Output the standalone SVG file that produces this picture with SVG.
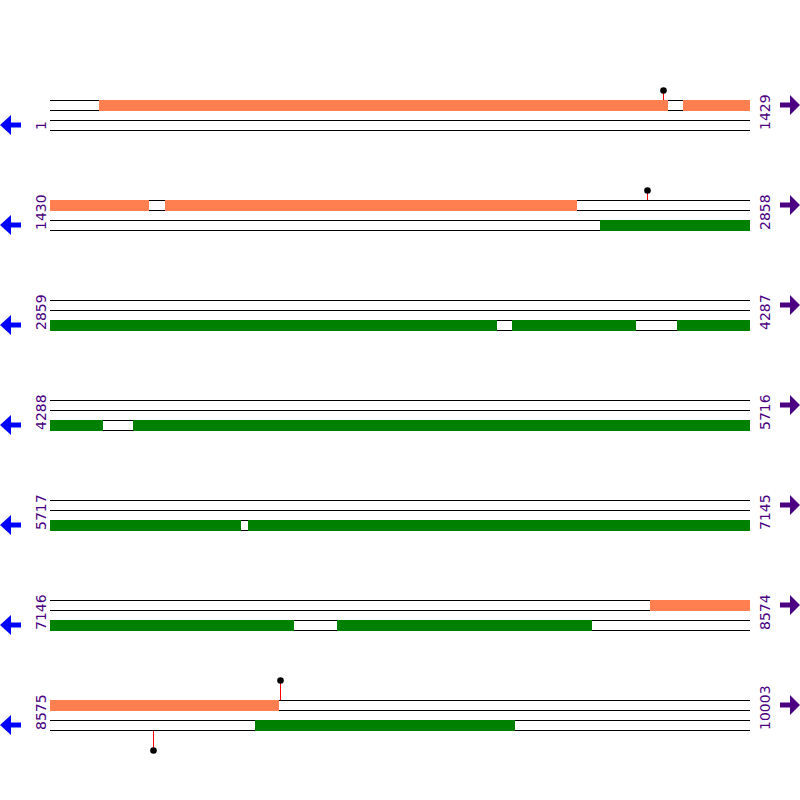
<svg xmlns="http://www.w3.org/2000/svg" width="800" height="800" viewBox="0 0 800 800">
<style>
.ln{stroke:#000;stroke-width:1;fill:none}
.or{fill:#FF7F50}
.gr{fill:#008000}
.lbl{font-family:"DejaVu Sans",sans-serif;font-size:14px;fill:#4B0082}
.stem{stroke:#FF0000;stroke-width:1}
.dot{fill:#000}
.la{fill:#0000FF}
.ra{fill:#4B0082}
</style>
<defs>
<g id="tracks">
<line class="ln" x1="50" y1="0.5" x2="750" y2="0.5"/>
<line class="ln" x1="50" y1="10.5" x2="750" y2="10.5"/>
<line class="ln" x1="50" y1="20.5" x2="750" y2="20.5"/>
<line class="ln" x1="50" y1="30.5" x2="750" y2="30.5"/>
</g>
<path id="larrow" d="M0,25 L11,15 L11,22.5 L21,22.5 L21,27.5 L11,27.5 L11,35 Z"/>
<path id="rarrow" d="M800,5 L790,-5 L790,2.5 L780,2.5 L780,7.5 L790,7.5 L790,15 Z"/>
</defs>
<g id="row1" transform="translate(0,100)">
<use href="#tracks"/>
<rect class="or" x="99" y="0" width="569" height="11"/>
<rect class="or" x="683" y="0" width="67" height="11"/>
<use href="#larrow" class="la"/><use href="#rarrow" class="ra"/>
<text class="lbl" transform="translate(46,30) rotate(-90)">1</text>
<text class="lbl" transform="translate(770,30) rotate(-90)">1429</text>
</g>
<g id="row2" transform="translate(0,200)">
<use href="#tracks"/>
<rect class="or" x="50" y="0" width="99" height="11"/>
<rect class="or" x="165" y="0" width="412" height="11"/>
<rect class="gr" x="600" y="20" width="150" height="11"/>
<use href="#larrow" class="la"/><use href="#rarrow" class="ra"/>
<text class="lbl" transform="translate(46,30) rotate(-90)">1430</text>
<text class="lbl" transform="translate(770,30) rotate(-90)">2858</text>
</g>
<g id="row3" transform="translate(0,300)">
<use href="#tracks"/>
<rect class="gr" x="50" y="20" width="447" height="11"/>
<rect class="gr" x="512" y="20" width="124" height="11"/>
<rect class="gr" x="677" y="20" width="73" height="11"/>
<use href="#larrow" class="la"/><use href="#rarrow" class="ra"/>
<text class="lbl" transform="translate(46,30) rotate(-90)">2859</text>
<text class="lbl" transform="translate(770,30) rotate(-90)">4287</text>
</g>
<g id="row4" transform="translate(0,400)">
<use href="#tracks"/>
<rect class="gr" x="50" y="20" width="53" height="11"/>
<rect class="gr" x="133" y="20" width="617" height="11"/>
<use href="#larrow" class="la"/><use href="#rarrow" class="ra"/>
<text class="lbl" transform="translate(46,30) rotate(-90)">4288</text>
<text class="lbl" transform="translate(770,30) rotate(-90)">5716</text>
</g>
<g id="row5" transform="translate(0,500)">
<use href="#tracks"/>
<rect class="gr" x="50" y="20" width="191" height="11"/>
<rect class="gr" x="248" y="20" width="502" height="11"/>
<use href="#larrow" class="la"/><use href="#rarrow" class="ra"/>
<text class="lbl" transform="translate(46,30) rotate(-90)">5717</text>
<text class="lbl" transform="translate(770,30) rotate(-90)">7145</text>
</g>
<g id="row6" transform="translate(0,600)">
<use href="#tracks"/>
<rect class="or" x="650" y="0" width="100" height="11"/>
<rect class="gr" x="50" y="20" width="244" height="11"/>
<rect class="gr" x="337" y="20" width="255" height="11"/>
<use href="#larrow" class="la"/><use href="#rarrow" class="ra"/>
<text class="lbl" transform="translate(46,30) rotate(-90)">7146</text>
<text class="lbl" transform="translate(770,30) rotate(-90)">8574</text>
</g>
<g id="row7" transform="translate(0,700)">
<use href="#tracks"/>
<rect class="or" x="50" y="0" width="229" height="11"/>
<rect class="gr" x="255" y="20" width="260" height="11"/>
<use href="#larrow" class="la"/><use href="#rarrow" class="ra"/>
<text class="lbl" transform="translate(46,30) rotate(-90)">8575</text>
<text class="lbl" transform="translate(770,30) rotate(-90)">10003</text>
</g>
<g id="connectors">
<line class="stem" x1="663.5" y1="91" x2="663.5" y2="100"/>
<circle class="dot" cx="663.5" cy="90.5" r="3.3"/>
<line class="stem" x1="647.5" y1="191" x2="647.5" y2="200"/>
<circle class="dot" cx="647.5" cy="190.5" r="3.3"/>
<line class="stem" x1="280.5" y1="681" x2="280.5" y2="700"/>
<circle class="dot" cx="280.5" cy="680.5" r="3.3"/>
<line class="stem" x1="153.5" y1="731" x2="153.5" y2="750"/>
<circle class="dot" cx="153.5" cy="750.5" r="3.3"/>
</g>
</svg>
